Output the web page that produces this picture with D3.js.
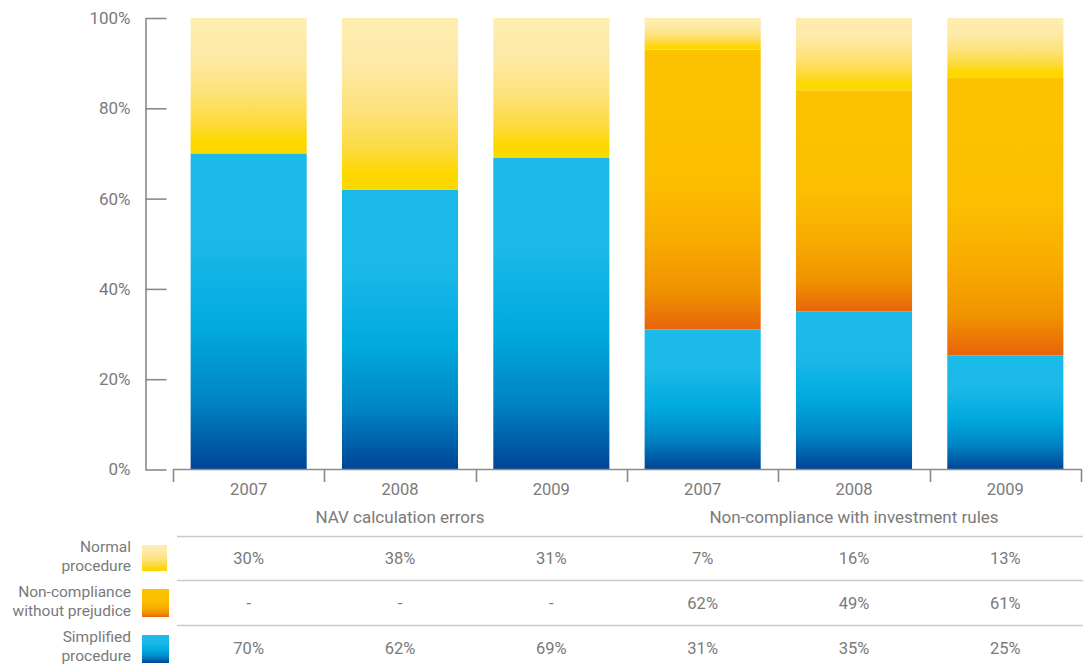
<!DOCTYPE html>
<html><head><meta charset="utf-8">
<script src="https://cdn.jsdelivr.net/npm/d3@7"></script>
<style>
body{margin:0;background:#fff;}
text{font-family:Roboto,"Noto Sans",sans-serif;font-weight:400;fill:#7a7a7a;}
</style></head>
<body><svg id="c" width="1086" height="668"></svg>
<script>
const years = ["2007","2008","2009","2007","2008","2009"];
const groups = ["NAV calculation errors","Non-compliance with investment rules"];
const groupOf = [0,0,0,1,1,1];
const seriesKeys = ["simplified","noncompliance","normal"];
const seriesNames = {normal:["Normal","procedure"], noncompliance:["Non-compliance","without prejudice"], simplified:["Simplified","procedure"]};
const normalVals = [30,38,31,7,16,13];
const noncomplianceVals = [null,null,null,62,49,61];
const simplifiedVals = [70,62,69,31,35,25];
const yTicks = [0,20,40,60,80,100];

const svg = d3.select("#c");
const y = d3.scaleLinear().domain([0,100]).range([469.5,18]);
const x = d3.scaleBand().domain(d3.range(years.length)).range([173,1081]).paddingInner(0.233).paddingOuter(0.1165);
const FS = 16.5;

const defs = svg.append("defs");
function grad(id, stops){
  const g = defs.append("linearGradient").attr("id",id).attr("x1",0).attr("y1",0).attr("x2",0).attr("y2",1);
  stops.forEach(s=>g.append("stop").attr("offset",s[0]).attr("stop-color",s[1]));
}
grad("g-normal",[[0,"#feedb1"],[0.26,"#feeaa8"],[0.55,"#fde27a"],[0.78,"#fdda3a"],[0.9,"#fdd800"],[1,"#fdd700"]]);
grad("g-noncompliance",[[0,"#fcc200"],[0.45,"#fbbf00"],[0.68,"#f8ab00"],[0.86,"#f09200"],[1,"#e8640c"]]);
grad("g-simplified",[[0,"#1bbae9"],[0.28,"#1bb9e8"],[0.55,"#00aadf"],[0.78,"#0085c5"],[1,"#004494"]]);

const data = years.map((yr,i)=>({i, simplified:simplifiedVals[i]||0, noncompliance:noncomplianceVals[i]||0, normal:normalVals[i]||0}));
const stack = d3.stack().keys(seriesKeys).offset(d3.stackOffsetExpand);
const layers = stack(data);

const gBars = svg.append("g");
layers.forEach(layer=>{
  gBars.selectAll(null).data(layer.filter(d=>d[1]-d[0]>0)).enter().append("rect")
    .attr("x",d=>x(d.data.i))
    .attr("width",x.bandwidth())
    .attr("y",d=>y(d[1]*100))
    .attr("height",d=>y(d[0]*100)-y(d[1]*100))
    .attr("fill",`url(#g-${layer.key})`);
});

// y axis
const yAxis = d3.axisLeft(y).tickValues(yTicks).tickFormat(d=>d+"%").tickSizeInner(-21).tickSizeOuter(0).tickPadding(15);
const gy = svg.append("g").attr("transform","translate(145.5,0)").call(yAxis);
gy.select(".domain").attr("stroke","#8a8a8a").attr("stroke-width",1.6);
gy.selectAll(".tick line").attr("stroke","#8a8a8a").attr("stroke-width",1.6);
gy.selectAll(".tick text").attr("font-size",17).attr("fill","#7a7a7a").attr("font-family","Roboto");

// x axis
const step = x.step();
const boundaries = d3.range(years.length+1).map(i=> i<years.length ? x(i)-step*x.paddingInner()/2 : x(i-1)+x.bandwidth()+step*x.paddingInner()/2);
const gx = svg.append("g");
gx.append("line").attr("x1",boundaries[0]).attr("x2",boundaries[boundaries.length-1]).attr("y1",469.5).attr("y2",469.5).attr("stroke","#8a8a8a").attr("stroke-width",1.6);
gx.selectAll(".bt").data(boundaries).enter().append("line")
  .attr("x1",d=>Math.round(d)+0.5).attr("x2",d=>Math.round(d)+0.5).attr("y1",469).attr("y2",482)
  .attr("stroke","#8a8a8a").attr("stroke-width",1.6);
gx.selectAll(".yl").data(years).enter().append("text")
  .attr("x",(d,i)=>x(i)+x.bandwidth()/2).attr("y",495).attr("text-anchor","middle").attr("font-size",FS).text(d=>d);
groups.forEach((g,gi)=>{
  const idx = d3.range(years.length).filter(i=>groupOf[i]===gi);
  const cx = (boundaries[idx[0]]+boundaries[idx[idx.length-1]+1])/2;
  gx.append("text").attr("x",cx).attr("y",523).attr("text-anchor","middle").attr("font-size",17).text(g);
});

// table
const rows = [
  {key:"normal", vals:normalVals, yc:558, sw:[545,571]},
  {key:"noncompliance", vals:noncomplianceVals, yc:603, sw:[589,617]},
  {key:"simplified", vals:simplifiedVals, yc:648, sw:[635,663]}
];
const lineYs = [536.5,580.5,625.5];
const gt = svg.append("g");
lineYs.forEach(ly=>gt.append("line").attr("x1",177).attr("x2",1083).attr("y1",ly).attr("y2",ly).attr("stroke","#c9c9c9").attr("stroke-width",1.5));
rows.forEach(r=>{
  gt.append("rect").attr("x",142).attr("width",r.key==="normal"?25:27).attr("y",r.sw[0]).attr("height",r.sw[1]-r.sw[0]).attr("fill",`url(#g-${r.key})`);
  const nm = seriesNames[r.key];
  gt.append("text").attr("x",131).attr("y",r.yc-6).attr("text-anchor","end").attr("font-size",15.5).text(nm[0]);
  gt.append("text").attr("x",131).attr("y",r.yc+13).attr("text-anchor","end").attr("font-size",15.5).text(nm[1]);
  gt.selectAll(null).data(r.vals).enter().append("text")
    .attr("x",(d,i)=>x(i)+x.bandwidth()/2).attr("y",r.yc+6).attr("text-anchor","middle").attr("font-size",FS)
    .text(d=>d==null?"-":d+"%");
});
</script></body></html>
